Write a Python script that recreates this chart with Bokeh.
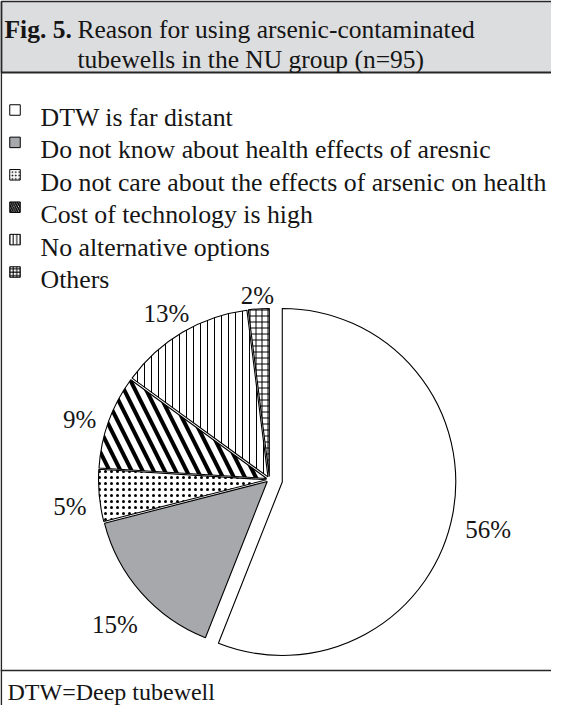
import math
from bokeh.plotting import figure
from bokeh.models import Range1d
from bokeh.core.properties import value
from bokeh.embed import file_html
from bokeh.resources import INLINE

# ---- data ----
categories = ["DTW is far distant",
              "Do not know about health effects of aresnic",
              "Do not care about the effects of arsenic on health",
              "Cost of technology is high",
              "No alternative options",
              "Others"]
percent = [56, 15, 5, 9, 13, 2]
pct_labels = ["56%", "15%", "5%", "9%", "13%", "2%"]
title_bold = "Fig. 5."
title_line1 = "Reason for using arsenic-contaminated"
title_line2 = "tubewells in the NU group (n=95)"
footnote = "DTW=Deep tubewell"

# ---- styles ----
FONT = value("Liberation Serif")
TXT = "#151515"
fills = ["white", "#a7a8ab", "white", "white", "white", "white"]
hatches = [" ", " ", ".", "\\", "|", "+"]
hatch_scales = [8, 8, 6, 22, 7, 6]
hatch_weights = [1, 1, 2.4, 4, 1, 1]
leg_hscales = [4, 4, 3.4, 4.5, 3.5, 3.5]
leg_hweights = [1, 1, 1.6, 1.6, 1, 1]
explode = [13, 3, 3, 3, 3, 3]
radius = [173.5, 168, 168, 168, 168, 168]

# page has an 8px margin on every side: plot occupies page x 8..559, y 8..713
W, H = 551, 705
BOTTOM = 713
p = figure(width=W, height=H, output_backend="svg", toolbar_location=None,
           x_range=Range1d(8, 8 + W), y_range=Range1d(0, H),
           min_border=0, outline_line_color=None)
p.axis.visible = False
p.grid.visible = False
p.background_fill_color = "white"
p.border_fill_color = "white"

def Y(yref):
    # convert a page y (top-down) into data y (bottom-up)
    return BOTTOM - yref

# frame: title box, left rule, footnote rule
p.quad(left=[8.9], right=[620], top=[Y(8.9)], bottom=[Y(80)],
       fill_color="#dcdddf", line_color="#262626", line_width=1.8)
p.segment(x0=[8.8], y0=[Y(9)], x1=[8.8], y1=[Y(740)], line_color="#262626", line_width=1.6)
p.segment(x0=[8], y0=[Y(678)], x1=[620], y1=[Y(678)], line_color="#262626", line_width=1.4)

p.text(x=[12], y=[Y(37)], text=[title_bold], text_font=FONT, text_font_size="25.5px",
       text_font_style="bold", text_baseline="alphabetic", text_color=TXT)
p.text(x=[85], y=[Y(37)], text=[title_line1], text_font=FONT, text_font_size="25.5px",
       text_baseline="alphabetic", text_color=TXT)
p.text(x=[85], y=[Y(67)], text=[title_line2], text_font=FONT, text_font_size="25.5px",
       text_baseline="alphabetic", text_color=TXT)
p.text(x=[15], y=[Y(699)], text=[footnote], text_font=FONT, text_font_size="24px",
       text_baseline="alphabetic", text_color=TXT)

# legend
leg_base0, leg_dy = 125, 32.4
for i, cat in enumerate(categories):
    base = leg_base0 + i * leg_dy
    p.rect(x=[22.5], y=[Y(base - 7.5)], width=10.5, height=10.5, fill_color=fills[i],
           line_color="black", line_width=1, hatch_pattern=hatches[i],
           hatch_scale=leg_hscales[i], hatch_weight=leg_hweights[i],
           hatch_color="black")
    p.text(x=[48], y=[Y(base)], text=[cat], text_font=FONT, text_font_size="25.8px",
           text_baseline="alphabetic", text_color=TXT)

# pie
cx, cy = 277, Y(487)
total = sum(percent)
gap = 12
cum = 0.0
for i, v in enumerate(percent):
    a0 = cum / total
    a1 = (cum + v) / total
    cum += v
    start = math.radians(90 - a1 * 360)
    end = math.radians(90 - a0 * 360)
    mid = (start + end) / 2
    ox = cx + explode[i] * math.cos(mid)
    oy = cy + explode[i] * math.sin(mid)
    p.wedge(x=[ox], y=[oy], radius=radius[i], start_angle=start, end_angle=end,
            fill_color=fills[i], line_color="black", line_width=1.1,
            hatch_pattern=hatches[i], hatch_scale=hatch_scales[i],
            hatch_weight=hatch_weights[i], hatch_color="black")
    # label placed outside the arc, like an "outside end" data label
    lab = pct_labels[i]
    tw = 12.5 * (len(lab) - 1) + 20.8
    th = 18
    ext = abs(math.cos(mid)) * tw / 2 + abs(math.sin(mid)) * th / 2
    lr = radius[i] + gap + ext
    lx = ox + lr * math.cos(mid)
    ly = oy + lr * math.sin(mid)
    p.text(x=[lx], y=[ly - 8.5], text=[lab], text_font=FONT, text_font_size="25px",
           text_align="center", text_baseline="alphabetic", text_color=TXT)

open("out.html", "w").write(file_html(p, INLINE))
